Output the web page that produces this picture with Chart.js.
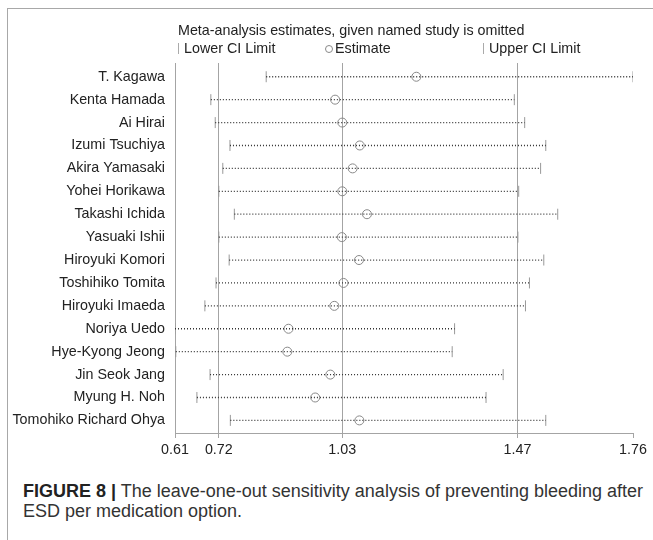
<!DOCTYPE html>
<html>
<head>
<meta charset="utf-8">
<script src="https://cdn.jsdelivr.net/npm/chart.js@4.4.0/dist/chart.umd.min.js"></script>
<style>
  body { margin: 0; background: #fff; width: 653px; height: 540px; overflow: hidden; position: relative; font-family: "Liberation Sans", Arial, sans-serif; }
  #frame { position: absolute; left: 7px; top: 8px; right: -2px; bottom: -2px; border-left: 1px solid #a8a8a8; border-top: 1px solid #a8a8a8; }
  #chart { position: absolute; left: 0; top: 0; }
  .leg { position: absolute; font-size: 14.3px; color: #222; white-space: nowrap; line-height: 18px; }
  .bar { display: inline-block; width: 1px; height: 11px; background: #aaa; margin-right: 5px; vertical-align: -1px; }
  .circ { display: inline-block; width: 8px; height: 8px; border: 1px solid #888; border-radius: 50%; margin-right: 2px; vertical-align: 0px; box-sizing: border-box; }
  #caption { position: absolute; left: 23px; top: 481px; font-size: 18px; color: #333; line-height: 20px; white-space: nowrap; }
  #caption b { color: #222; }
</style>
</head>
<body>
<div id="frame"></div>
<canvas id="chart" width="653" height="460"></canvas>
<div class="leg" style="left:178px; top:21px;">Meta-analysis estimates, given named study is omitted</div>
<div class="leg" style="left:178px; top:39px;"><span class="bar"></span>Lower CI Limit</div>
<div class="leg" style="left:325px; top:39px;"><span class="circ"></span>Estimate</div>
<div class="leg" style="left:483px; top:39px;"><span class="bar"></span>Upper CI Limit</div>
<div id="caption"><b>FIGURE 8 |</b> The leave-one-out sensitivity analysis of preventing bleeding after<br>ESD per medication option.</div>
<script>
const studies = ["T. Kagawa", "Kenta Hamada", "Ai Hirai", "Izumi Tsuchiya", "Akira Yamasaki",
  "Yohei Horikawa", "Takashi Ichida", "Yasuaki Ishii", "Hiroyuki Komori", "Toshihiko Tomita",
  "Hiroyuki Imaeda", "Noriya Uedo", "Hye-Kyong Jeong", "Jin Seok Jang", "Myung H. Noh",
  "Tomohiko Richard Ohya"];
const lower = [0.839, 0.700, 0.711, 0.748, 0.730, 0.720, 0.759, 0.720, 0.746, 0.713,
  0.685, 0.610, 0.612, 0.698, 0.665, 0.749];
const estimate = [1.216, 1.012, 1.030, 1.074, 1.056, 1.030, 1.092, 1.029, 1.072, 1.033,
  1.010, 0.895, 0.892, 1.000, 0.962, 1.073];
const upper = [1.760, 1.462, 1.488, 1.541, 1.528, 1.473, 1.571, 1.471, 1.536, 1.500,
  1.490, 1.312, 1.306, 1.434, 1.391, 1.541];
const xTicks = [0.61, 0.72, 1.03, 1.47, 1.76];

const gridGray = "#a4a4a4";
const labelFont = { family: "Liberation Sans", size: 14.3 };

// dotted line for each omitted study
const lineSets = studies.map((s, i) => ({
  type: "line",
  data: [{ x: lower[i], y: i }, { x: upper[i], y: i }],
  borderColor: "#333",
  borderWidth: 1.3,
  borderDash: [1, 2],
  pointRadius: 0
}));

const capSet = {
  data: studies.flatMap((s, i) => [{ x: lower[i], y: i }, { x: upper[i], y: i }]),
  pointStyle: "line",
  rotation: 90,
  pointRadius: 5.5,
  borderColor: "#999",
  borderWidth: 1
};

const estSet = {
  data: studies.map((s, i) => ({ x: estimate[i], y: i })),
  pointStyle: "circle",
  pointRadius: 4.5,
  borderColor: "#888",
  borderWidth: 1,
  backgroundColor: "rgba(0,0,0,0)"
};

new Chart(document.getElementById("chart"), {
  type: "scatter",
  data: { datasets: [...lineSets, capSet, estSet] },
  options: {
    responsive: false,
    animation: false,
    devicePixelRatio: 1,
    layout: { padding: { top: 63, right: 20, left: 0, bottom: 0 } },
    plugins: { legend: { display: false }, tooltip: { enabled: false } },
    scales: {
      x: {
        type: "linear",
        min: 0.61,
        max: 1.76,
        afterBuildTicks: scale => { scale.ticks = xTicks.map(v => ({ value: v })); },
        afterFit: scale => { scale.height = 27; },
        ticks: {
          callback: v => v.toFixed(2),
          color: "#222",
          font: labelFont,
          padding: 3,
          maxRotation: 0
        },
        grid: {
          color: ctx => (ctx.tick && ctx.tick.value === 1.76) ? "rgba(0,0,0,0)" : gridGray,
          tickColor: gridGray,
          tickLength: 5,
          lineWidth: 1
        },
        border: { color: gridGray }
      },
      y: {
        type: "linear",
        reverse: true,
        min: -0.6,
        max: 15.55,
        afterBuildTicks: scale => { scale.ticks = studies.map((s, i) => ({ value: i })); },
        afterFit: scale => { scale.width = 175; },
        ticks: {
          callback: v => studies[v],
          autoSkip: false,
          color: "#222",
          font: labelFont,
          padding: 10
        },
        grid: { display: false, drawTicks: false },
        border: { display: false }
      }
    }
  }
});
</script>
</body>
</html>
